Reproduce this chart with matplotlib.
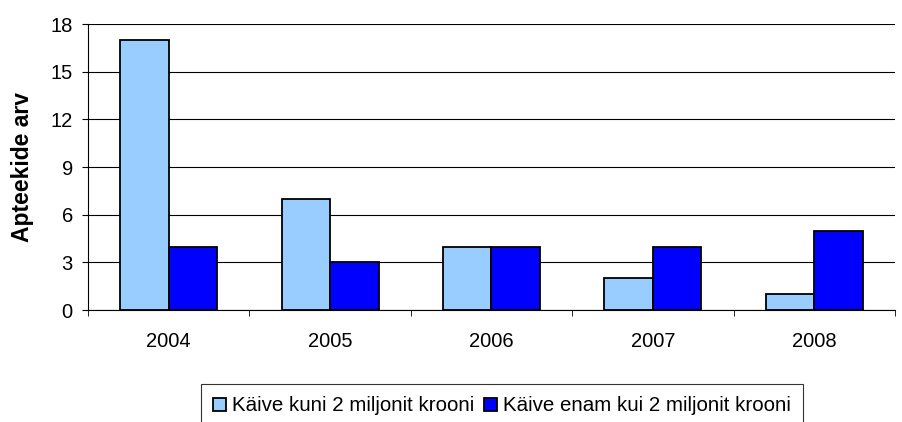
import numpy as np
import matplotlib.pyplot as plt

years = ["2004", "2005", "2006", "2007", "2008"]
small = [17, 7, 4, 2, 1]
large = [4, 3, 4, 4, 5]
labels = ["Käive kuni 2 miljonit krooni", "Käive enam kui 2 miljonit krooni"]

plt.rcParams['font.family'] = ['Liberation Sans', 'DejaVu Sans']

fig = plt.figure(figsize=(9.03, 4.22), dpi=100)
ax = fig.add_axes([0.0975, 0.265, 0.8935, 0.678])

x = np.arange(len(years))
w = 0.3
ax.bar(x - w / 2, small, w, color='#99CCFF', edgecolor='black', linewidth=1.3, label=labels[0], zorder=3)
ax.bar(x + w / 2, large, w, color='#0000FF', edgecolor='black', linewidth=1.3, label=labels[1], zorder=3)

ax.set_xlim(-0.5, len(years) - 0.5)
ax.set_ylim(0, 18)
ax.set_yticks(range(0, 19, 3))
ax.yaxis.grid(True, color='black', linewidth=0.8, zorder=0)
ax.set_xticks(x)
ax.set_xticklabels(years)
ax.set_xticks(np.arange(-0.5, len(years)), minor=True)
ax.tick_params(axis='x', which='major', length=0, pad=16, labelsize=14.5)
ax.tick_params(axis='x', which='minor', length=4, direction='out', color='black')
ax.tick_params(axis='y', length=4, direction='out', labelsize=14.5, pad=7)

for s in ['top', 'right']:
    ax.spines[s].set_visible(False)
ax.spines['left'].set_color('black')
ax.spines['bottom'].set_color('black')

ax.set_ylabel("Apteekide arv", fontsize=16.5, fontweight='bold', labelpad=12)

leg = fig.legend(loc='upper center', bbox_to_anchor=(0.556, 0.090), ncol=2, fontsize=14.8,
                 frameon=True, fancybox=False, edgecolor='black', handlelength=0.6,
                 handleheight=0.6, handletextpad=0.3, columnspacing=0.5, borderpad=0.6,
                 borderaxespad=0)
leg.get_frame().set_linewidth(0.8)

fig.savefig("out.png", dpi=100)
